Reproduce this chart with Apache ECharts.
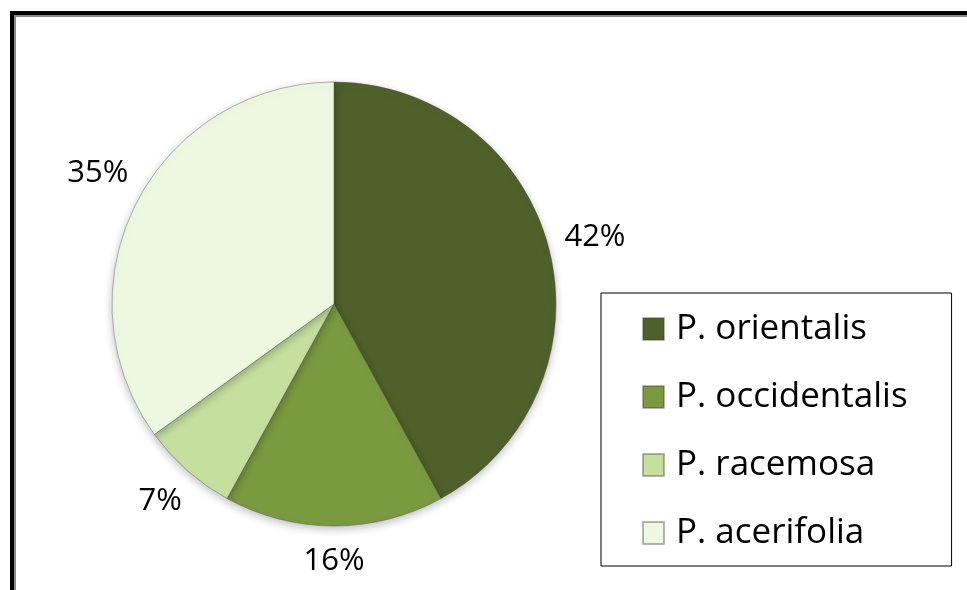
<!DOCTYPE html>
<html>
<head>
<meta charset="utf-8">
<script src="https://cdn.jsdelivr.net/npm/echarts@6/dist/echarts.min.js"></script>
<style>
html,body{margin:0;padding:0;background:#fff;}
#chart{width:967px;height:590px;}
</style>
</head>
<body>
<div id="chart"></div>
<script>
var categories = ['P. orientalis', 'P. occidentalis', 'P. racemosa', 'P. acerifolia'];
var values = [42, 16, 7, 35];
var colors = ['#4f602b', '#7a9a40', '#c5df9f', '#eef7e0'];

var FONT = '"Open Sans", "DejaVu Sans", sans-serif';
var GAP = 12;

var chart = echarts.init(document.getElementById('chart'), null, {renderer: 'canvas'});

var data = categories.map(function (c, i) {
  return {name: c, value: values[i], itemStyle: {color: colors[i]}};
});

chart.setOption({
  animation: false,
  backgroundColor: '#ffffff',
  graphic: [
    {type: 'rect', shape: {x: 10, y: 11, width: 957, height: 4}, style: {fill: '#000'}, silent: true},
    {type: 'rect', shape: {x: 14, y: 15, width: 953, height: 2}, style: {fill: '#8a8a8a'}, silent: true},
    {type: 'rect', shape: {x: 10, y: 11, width: 4, height: 579}, style: {fill: '#000'}, silent: true},
    {type: 'rect', shape: {x: 14, y: 15, width: 2, height: 575}, style: {fill: '#8a8a8a'}, silent: true}
  ],
  legend: {
    orient: 'vertical',
    left: 601,
    top: 293,
    data: categories,
    icon: 'rect',
    itemWidth: 21,
    itemHeight: 22,
    itemGap: 28,
    padding: [16, 44, 13, 41],
    borderColor: '#000',
    borderWidth: 1,
    textStyle: {fontFamily: FONT, fontSize: 35, color: '#000', lineHeight: 40, padding: [0, 0, 0, 7]}
  },
  series: [{
    type: 'pie',
    center: [334, 304],
    radius: 222,
    startAngle: 90,
    clockwise: true,
    avoidLabelOverlap: false,
    data: data,
    itemStyle: {
      borderColor: 'rgba(70,70,70,0.4)',
      borderWidth: 1,
      shadowBlur: 8,
      shadowColor: 'rgba(0,0,0,0.25)',
      shadowOffsetY: 3
    },
    label: {
      show: true,
      position: 'outside',
      formatter: function (p) { return p.value + '%'; },
      fontFamily: FONT,
      fontSize: 31,
      color: '#000'
    },
    labelLine: {show: true, length: 10, length2: 0, lineStyle: {opacity: 0, width: 0}},
    labelLayout: function (p) {
      var pts = p.labelLinePoints;
      if (!pts) return {};
      var dx = pts[1][0] - pts[0][0], dy = pts[1][1] - pts[0][1];
      var l = Math.sqrt(dx * dx + dy * dy) || 1;
      dx /= l; dy /= l;
      var hw = p.labelRect.width / 2, hh = p.labelRect.height / 2;
      var d = GAP + Math.abs(dx) * hw + Math.abs(dy) * (hh + 8);
      var x = pts[0][0] + dx * d, y = pts[0][1] + dy * d;
      if (dx < 0 && dy < 0) { y -= 7; x += 6; }
      if (dx < 0 && dy > 0) { y -= 2; x += 2; }
      return {x: x, y: y, align: 'center', verticalAlign: 'middle'};
    },
    emphasis: {disabled: true}
  }]
});
</script>
</body>
</html>
